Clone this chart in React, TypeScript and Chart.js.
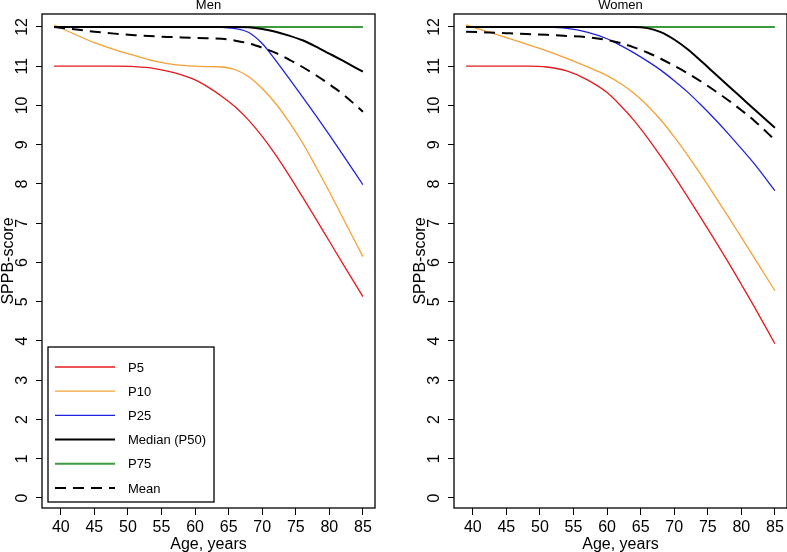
import React, { useEffect, useRef } from "react";
import { Chart, registerables } from "chart.js";

Chart.register(...registerables);

const ages = [39, 42, 45, 48, 51, 54, 57, 60, 62, 64, 66, 68, 70, 72, 74, 76, 78, 80, 82, 85];
const xTicks = [40, 45, 50, 55, 60, 65, 70, 75, 80, 85];
const yTicks = [0, 1, 2, 3, 4, 5, 6, 7, 8, 9, 10, 11, 12];
const seriesLabels = ["P5", "P10", "P25", "Median (P50)", "P75", "Mean"];
const panelTitles = ["Men", "Women"];

const menP5 = [11.0, 11.0, 11.0, 11.0, 10.99, 10.94, 10.83, 10.65, 10.46, 10.23, 9.96, 9.62, 9.21, 8.74, 8.22, 7.67, 7.11, 6.54, 5.97, 5.13];
const menP10 = [12.05, 11.82, 11.6, 11.42, 11.27, 11.13, 11.04, 11.0, 10.99, 10.98, 10.91, 10.73, 10.43, 10.05, 9.58, 9.05, 8.44, 7.8, 7.14, 6.15];
const menP25 = [12, 12, 12, 12, 12, 12, 12, 12, 12, 11.99, 11.96, 11.86, 11.58, 11.15, 10.69, 10.22, 9.74, 9.25, 8.75, 7.98];
const menP50 = [12, 12, 12, 12, 12, 12, 12, 12, 12, 12, 12, 11.99, 11.95, 11.88, 11.78, 11.66, 11.5, 11.32, 11.14, 10.86];
const menP75 = [12, 12, 12, 12, 12, 12, 12, 12, 12, 12, 12, 12, 12, 12, 12, 12, 12, 12, 12, 12];
const menMean = [12.0, 11.94, 11.88, 11.83, 11.79, 11.76, 11.74, 11.72, 11.71, 11.7, 11.65, 11.58, 11.47, 11.34, 11.17, 10.98, 10.77, 10.54, 10.29, 9.84];

const womenP5 = [11.0, 11.0, 11.0, 11.0, 10.98, 10.88, 10.66, 10.33, 10.0, 9.62, 9.18, 8.7, 8.2, 7.67, 7.13, 6.58, 6.02, 5.44, 4.85, 3.93];
const womenP10 = [12.05, 11.89, 11.73, 11.56, 11.39, 11.2, 10.99, 10.76, 10.56, 10.31, 10.0, 9.63, 9.2, 8.73, 8.23, 7.71, 7.18, 6.64, 6.1, 5.28];
const womenP25 = [12, 12, 12, 12, 11.995, 11.965, 11.87, 11.7, 11.53, 11.34, 11.13, 10.9, 10.63, 10.34, 10.01, 9.66, 9.29, 8.9, 8.5, 7.83];
const womenP50 = [12, 12, 12, 12, 12, 12, 12, 12, 12, 12, 11.97, 11.87, 11.68, 11.43, 11.13, 10.82, 10.51, 10.2, 9.89, 9.43];
const womenP75 = [12, 12, 12, 12, 12, 12, 12, 12, 12, 12, 12, 12, 12, 12, 12, 12, 12, 12, 12, 12];
const womenMean = [11.88, 11.86, 11.84, 11.82, 11.8, 11.77, 11.74, 11.67, 11.59, 11.48, 11.35, 11.19, 11.01, 10.82, 10.61, 10.38, 10.14, 9.88, 9.6, 9.12];

const FONT = '"Liberation Sans", Arial, Helvetica, sans-serif';

const styles = [
  { color: "#e41a1c", width: 1.3, dash: [] as number[], order: 2 },
  { color: "#f7a035", width: 1.3, dash: [] as number[], order: 3 },
  { color: "#2020e0", width: 1.3, dash: [] as number[], order: 4 },
  { color: "#000000", width: 2, dash: [] as number[], order: 1 },
  { color: "#3c9b3c", width: 2, dash: [] as number[], order: 5 },
  { color: "#000000", width: 2, dash: [11, 7], order: 0 },
];

const framePlugin = {
  id: "frame",
  afterDraw(chart: any, _args: any, opts: any) {
    const { ctx, chartArea: a } = chart;
    ctx.save();
    ctx.strokeStyle = "#000";
    ctx.lineWidth = 1.3;
    ctx.setLineDash([]);
    ctx.strokeRect(a.left, a.top, a.right - a.left, a.bottom - a.top);
    ctx.fillStyle = "#000";
    ctx.textAlign = "center";
    ctx.textBaseline = "alphabetic";
    ctx.font = `13px ${FONT}`;
    ctx.fillText(opts.title, (a.left + a.right) / 2, 9);
    ctx.font = `16px ${FONT}`;
    ctx.fillText("Age, years", (a.left + a.right) / 2, 549);

    // rotated y tick labels, positioned by the y scale
    const ys = chart.scales.y;
    yTicks.forEach((v) => {
      const py = ys.getPixelForValue(v);
      ctx.save();
      ctx.translate(27, py);
      ctx.rotate(-Math.PI / 2);
      ctx.textAlign = "center";
      ctx.textBaseline = "alphabetic";
      ctx.fillText(String(v), 0, 0);
      ctx.restore();
    });

    ctx.save();
    ctx.translate(12.5, (a.top + a.bottom) / 2);
    ctx.rotate(-Math.PI / 2);
    ctx.textAlign = "center";
    ctx.fillText("SPPB-score", 0, 0);
    ctx.restore();

    if (opts.legend) {
      const lx = 48, ly = 347, lw = 166, lh = 155;
      ctx.lineWidth = 1.3;
      ctx.strokeStyle = "#000";
      ctx.fillStyle = "#fff";
      ctx.fillRect(lx, ly, lw, lh);
      ctx.strokeRect(lx, ly, lw, lh);
      ctx.font = `13px ${FONT}`;
      ctx.textAlign = "left";
      ctx.textBaseline = "middle";
      chart.data.datasets.forEach((ds: any, i: number) => {
        const y = 367 + i * 24.2;
        ctx.beginPath();
        ctx.strokeStyle = ds.borderColor;
        ctx.lineWidth = ds.borderWidth;
        ctx.setLineDash(ds.borderDash || []);
        ctx.moveTo(55, y);
        ctx.lineTo(115, y);
        ctx.stroke();
        ctx.setLineDash([]);
        ctx.fillStyle = "#000";
        ctx.fillText(ds.label, 128, y + 1);
      });
    }
    ctx.restore();
  },
};

function Panel({ idx, series, legend }: { idx: number; series: number[][]; legend: boolean }) {
  const ref = useRef<HTMLCanvasElement>(null);
  useEffect(() => {
    if (!ref.current) return;
    const chart = new Chart(ref.current, {
      type: "line",
      data: {
        datasets: series.map((vals, i) => ({
          label: seriesLabels[i],
          data: ages.map((a, j) => ({ x: a, y: vals[j] })),
          borderColor: styles[i].color,
          borderWidth: styles[i].width,
          borderDash: styles[i].dash,
          order: styles[i].order,
          pointRadius: 0,
          fill: false,
          cubicInterpolationMode: "monotone" as const,
        })),
      },
      options: {
        animation: false,
        responsive: false,
        events: [],
        layout: { padding: { left: 0, right: 37, top: 14, bottom: 0 } },
        plugins: {
          legend: { display: false },
          tooltip: { enabled: false },
          frame: { title: panelTitles[idx], legend },
        } as any,
        scales: {
          x: {
            type: "linear",
            min: 37.2,
            max: 86.8,
            afterBuildTicks: (s: any) => {
              s.ticks = xTicks.map((v) => ({ value: v }));
            },
            afterFit: (s: any) => {
              s.height = 44;
            },
            border: { display: false },
            grid: { drawOnChartArea: false, drawTicks: true, tickLength: 7, tickColor: "#000", tickWidth: 1 },
            ticks: {
              color: "#000",
              font: { size: 16, family: FONT },
              padding: 3,
              maxRotation: 0,
              autoSkip: false,
            },
          },
          y: {
            type: "linear",
            min: -0.255,
            max: 12.33,
            afterBuildTicks: (s: any) => {
              s.ticks = yTicks.map((v) => ({ value: v }));
            },
            afterFit: (s: any) => {
              s.width = 42;
            },
            border: { display: false },
            grid: { drawOnChartArea: false, drawTicks: true, tickLength: 6, tickColor: "#000", tickWidth: 1 },
            ticks: {
              color: "rgba(0,0,0,0)",
              font: { size: 16, family: FONT },
              padding: 3,
              autoSkip: false,
            },
          },
        },
      },
      plugins: [framePlugin],
    });
    return () => chart.destroy();
  }, []);
  return <canvas ref={ref} width={412} height={552} style={{ display: "block" }} />;
}

export default function App() {
  return (
    <div
      style={{
        position: "fixed",
        left: 0,
        top: 0,
        width: 787,
        height: 552,
        overflow: "hidden",
        background: "#fff",
      }}
    >
      <div style={{ position: "absolute", left: 0, top: 0, width: 412, height: 552 }}>
        <Panel idx={0} series={[menP5, menP10, menP25, menP50, menP75, menMean]} legend={true} />
      </div>
      <div style={{ position: "absolute", left: 412, top: 0, width: 412, height: 552 }}>
        <Panel idx={1} series={[womenP5, womenP10, womenP25, womenP50, womenP75, womenMean]} legend={false} />
      </div>
    </div>
  );
}
